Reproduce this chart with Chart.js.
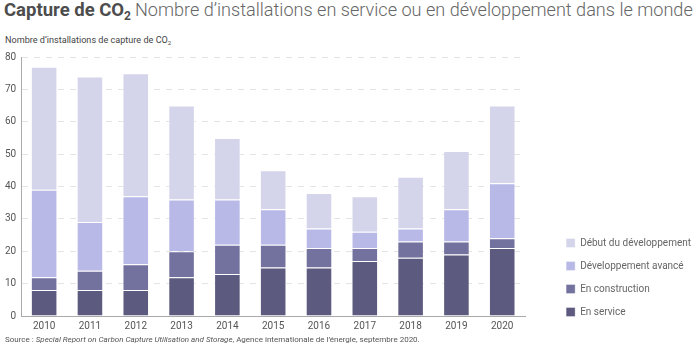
<!DOCTYPE html>
<html lang="fr">
<head>
<meta charset="utf-8">
<script src="https://cdn.jsdelivr.net/npm/chart.js@4/dist/chart.umd.min.js"></script>
<style>
  html, body { margin: 0; padding: 0; background: #fff; }
  body { width: 700px; height: 346px; position: relative; overflow: hidden; font-family: Roboto, sans-serif; }
  .title { position: absolute; left: 4px; top: -1px; color: #4d4d4d; white-space: nowrap; }
  .title b { font-weight: 700; font-size: 18.5px; }
  .title span { font-weight: 300; font-size: 18.1px; color: #666; }
  .title sub { font-size: 12px; vertical-align: -0.3em; line-height: 0; }
  .sub sub { font-size: 6px; vertical-align: -0.3em; line-height: 0; }
  .sub { position: absolute; left: 5px; top: 35px; font-size: 9.1px; color: #444; }
  .src { position: absolute; left: 5px; top: 335px; font-size: 8px; color: #555; white-space: nowrap; }
  .wrap { position: absolute; left: 0; top: 46px; width: 700px; height: 290px; }
</style>
</head>
<body>
<div class="title"><b>Capture de CO<sub>2</sub></b> <span>Nombre d’installations en service ou en développement dans le monde</span></div>
<div class="sub">Nombre d’installations de capture de CO<sub>2</sub></div>
<div class="wrap"><canvas id="chart"></canvas></div>
<div class="src">Source : <i>Special Report on Carbon Capture Utilisation and Storage</i>, Agence internationale de l’énergie, septembre 2020.</div>
<script>
const years = ['2010', '2011', '2012', '2013', '2014', '2015', '2016', '2017', '2018', '2019', '2020'];
const enService = [8, 8, 8, 12, 13, 15, 15, 17, 18, 19, 21];
const enConstruction = [4, 6, 8, 8, 9, 7, 6, 4, 5, 4, 3];
const developpementAvance = [27, 15, 21, 16, 14, 11, 6, 5, 4, 10, 17];
const debutDeveloppement = [38, 45, 38, 29, 19, 12, 11, 11, 16, 18, 24];

const edge = 'rgba(255,255,255,0.35)';
const ds = (label, data, color) => ({ label, data, backgroundColor: color, borderColor: edge, borderWidth: 1, barPercentage: 0.58, categoryPercentage: 1 });

// décale la légende sans toucher à la zone du graphique
const legendShift = {
  id: 'legendShift',
  afterLayout(chart) {
    const lg = chart.legend;
    if (!lg) return;
    lg.left += 28; lg.right += 28;
    lg.bottom -= 6;
  }
};

new Chart(document.getElementById('chart'), {
  type: 'bar',
  data: {
    labels: years,
    datasets: [
      ds('En service', enService, '#5c5a7e'),
      ds('En construction', enConstruction, '#73719e'),
      ds('Développement avancé', developpementAvance, '#b9b9e8'),
      ds('Début du développement', debutDeveloppement, '#d4d4ea')
    ]
  },
  options: {
    responsive: true,
    maintainAspectRatio: false,
    animation: false,
    layout: { padding: { left: 0, right: 27, top: 1, bottom: 0 } },
    scales: {
      x: {
        stacked: true,
        grid: { display: false, drawTicks: false },
        border: { color: '#aaa' },
        ticks: { color: '#555', font: { family: 'Roboto', size: 10 }, padding: 4 }
      },
      y: {
        stacked: true, min: 0, max: 80,
        grid: { color: '#e4e4e4', drawTicks: false },
        border: { color: '#aaa', dash: [6, 6] },
        ticks: { stepSize: 10, color: '#555', font: { family: 'Roboto', size: 10 }, padding: 5 }
      }
    },
    plugins: {
      tooltip: { enabled: false },
      legend: {
        position: 'right', align: 'end', reverse: true,
        labels: { boxWidth: 9, boxHeight: 9, padding: 13, color: '#666', font: { family: 'Roboto', size: 10 } }
      }
    }
  },
  plugins: [legendShift]
});
</script>
</body>
</html>
